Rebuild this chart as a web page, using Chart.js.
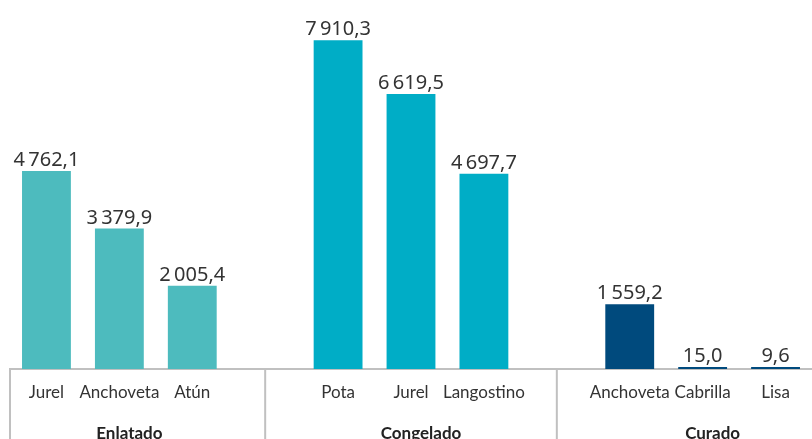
<!DOCTYPE html>
<html>
<head>
<meta charset="utf-8">
<script src="https://cdn.jsdelivr.net/npm/chart.js@4"></script>
<style>
  html, body { margin: 0; padding: 0; background: #fff; overflow: hidden; }
  #wrap { width: 812px; height: 439px; position: relative; }
</style>
</head>
<body>
<div id="wrap"><canvas id="chart"></canvas></div>
<script>
const groups = ['Enlatado', 'Congelado', 'Curado'];
const enlatadoItems = ['Jurel', 'Anchoveta', 'Atún'];
const enlatadoValues = [4762.1, 3379.9, 2005.4];
const congeladoItems = ['Pota', 'Jurel', 'Langostino'];
const congeladoValues = [7910.3, 6619.5, 4697.7];
const curadoItems = ['Anchoveta', 'Cabrilla', 'Lisa'];
const curadoValues = [1559.2, 15.0, 9.6];
const groupColors = ['#4dbbbe', '#00adc6', '#004a7d'];

// flatten with an empty slot between groups
const items = [enlatadoItems, congeladoItems, curadoItems];
const vals = [enlatadoValues, congeladoValues, curadoValues];
let labels = [], data = [], colors = [], spacers = [], middles = [];
items.forEach((list, g) => {
    if (g > 0) { spacers.push(labels.length); labels.push(''); data.push(null); colors.push('#fff'); }
    list.forEach((name, i) => {
        if (i === 1) middles.push(labels.length);
        labels.push(name);
        data.push(vals[g][i]);
        colors.push(groupColors[g]);
    });
});

function fmt(v) {
    const parts = v.toFixed(1).split('.');
    return parts[0].replace(/\B(?=(\d{3})+(?!\d))/g, '\u2009') + ',' + parts[1];
}

const decor = {
    id: 'decor',
    afterDatasetsDraw(chart) {
        const ctx = chart.ctx;
        const x = chart.scales.x;
        const area = chart.chartArea;
        ctx.save();
        // value labels
        ctx.font = '20px "Noto Sans"';
        ctx.fillStyle = '#333';
        ctx.textAlign = 'center';
        ctx.textBaseline = 'alphabetic';
        chart.getDatasetMeta(0).data.forEach((bar, i) => {
            if (data[i] == null) return;
            ctx.fillText(fmt(data[i]), bar.x, bar.y - 5);
        });
        // separators
        ctx.strokeStyle = '#c0c0c0';
        ctx.lineWidth = 2;
        const seps = [area.left].concat(spacers.map(i => x.getPixelForValue(i)));
        seps.forEach(px => {
            ctx.beginPath();
            ctx.moveTo(px, area.bottom);
            ctx.lineTo(px, chart.height);
            ctx.stroke();
        });
        // group labels
        ctx.font = 'bold 17px Lato';
        ctx.fillStyle = '#222';
        middles.forEach((idx, g) => {
            ctx.fillText(groups[g], x.getPixelForValue(idx) + 10, chart.height);
        });
        ctx.restore();
    }
};

new Chart(document.getElementById('chart'), {
    type: 'bar',
    data: {
        labels: labels,
        datasets: [{
            data: data,
            backgroundColor: colors,
            categoryPercentage: 1,
            barPercentage: 0.67,
            minBarLength: 2
        }]
    },
    options: {
        responsive: true,
        maintainAspectRatio: false,
        animation: false,
        layout: { padding: { left: 10, right: 0, top: 0, bottom: 0 } },
        plugins: { legend: { display: false }, tooltip: { enabled: false } },
        scales: {
            x: {
                grid: { display: false },
                border: { display: true, color: '#c0c0c0', width: 2 },
                ticks: { color: '#333', font: { family: 'Lato', size: 17 }, padding: 5, maxRotation: 0, autoSkip: false },
                afterFit(scale) { scale.height = 70; }
            },
            y: { display: false, min: 0, max: 8880 }
        }
    },
    plugins: [decor]
});
</script>
</body>
</html>
